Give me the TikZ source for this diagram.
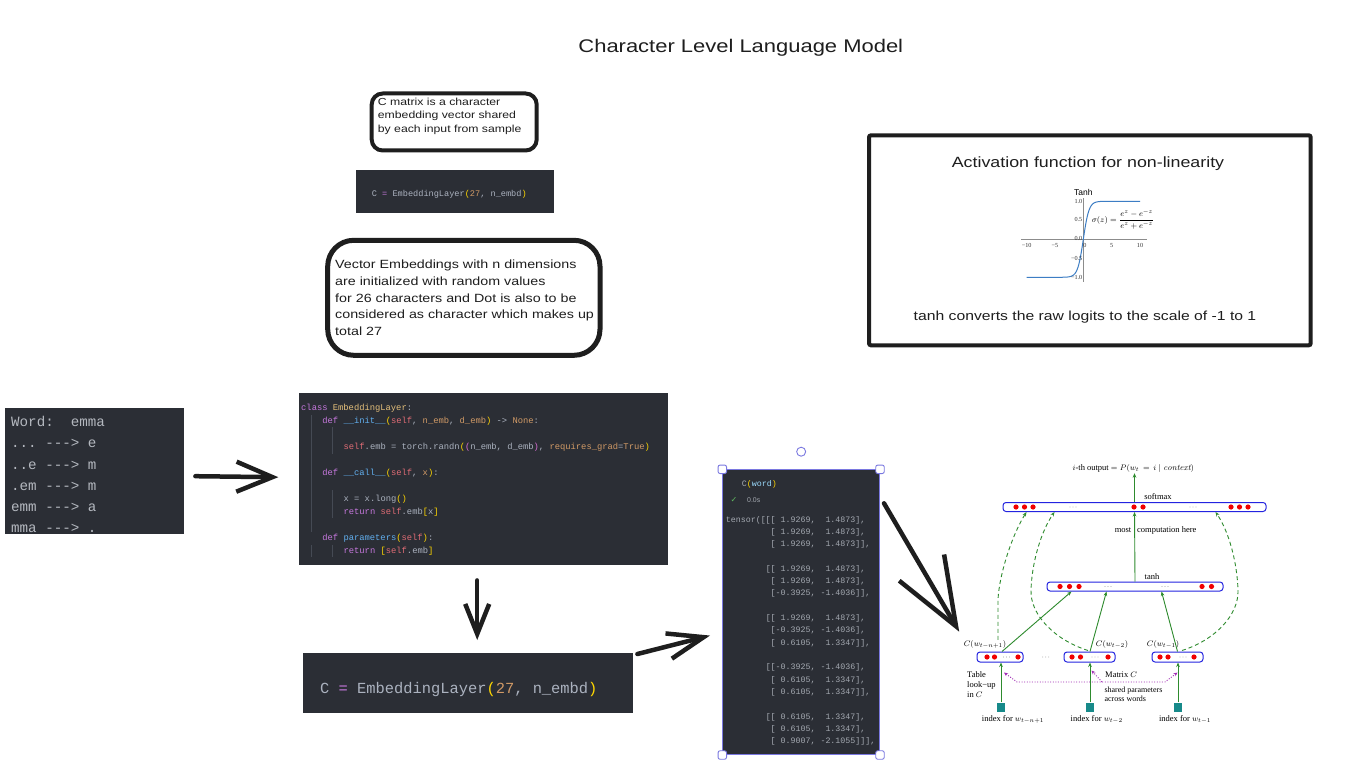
\documentclass[tikz,border=0pt]{standalone}
\usepackage{fontspec}
\usetikzlibrary{arrows.meta,calc}
\newfontfamily\hand[FakeStretch=1.2]{Liberation Sans}
\newfontfamily\sansf{Liberation Sans}
\newfontfamily\mono{Liberation Mono}
\newfontfamily\tms{Liberation Serif}
\newfontfamily\dejavu{DejaVu Sans}
\definecolor{ink}{HTML}{1E1E1E}
\definecolor{codebg}{HTML}{2B2E35}
\definecolor{ctxt}{HTML}{ABB2BF}
\definecolor{wtxt}{HTML}{B4B8BF}
\definecolor{ttxt}{HTML}{A4A9B1}
\definecolor{ckw}{HTML}{C678DD}
\definecolor{ccls}{HTML}{E5C07B}
\definecolor{cfn}{HTML}{61AFEF}
\definecolor{cslf}{HTML}{E06C75}
\definecolor{cprm}{HTML}{D19A66}
\definecolor{cbra}{HTML}{FFD700}
\definecolor{cbrb}{HTML}{DA70D6}
\definecolor{cvar}{HTML}{9CDCFE}
\definecolor{selb}{HTML}{7A78E0}
\definecolor{guide}{HTML}{454A54}
\definecolor{nnblue}{HTML}{2424E0}
\definecolor{nngreen}{HTML}{2E8B2E}
\definecolor{nnred}{HTML}{F00000}
\definecolor{nnteal}{HTML}{178A8A}
\definecolor{nnpurple}{HTML}{A02CB4}
\definecolor{tanhblue}{HTML}{3C7DC4}
\definecolor{okgreen}{HTML}{5FB65F}
\newcommand{\cKw}[1]{\textcolor{ckw}{#1}}
\newcommand{\cCl}[1]{\textcolor{ccls}{#1}}
\newcommand{\cFn}[1]{\textcolor{cfn}{#1}}
\newcommand{\cSf}[1]{\textcolor{cslf}{#1}}
\newcommand{\cPm}[1]{\textcolor{cprm}{#1}}
\newcommand{\cBa}[1]{\textcolor{cbra}{#1}}
\newcommand{\cBb}[1]{\textcolor{cbrb}{#1}}
\frenchspacing
\begin{document}
\begin{tikzpicture}[x=1pt,y=-1pt,
  darkbox/.style={fill=codebg, inner sep=0pt, anchor=north west},
  note/.style={draw=ink, line width=4pt, inner sep=0pt, anchor=north west},
  hw/.style={font=\hand\fontsize{#1}{#1}\selectfont, text=ink, inner sep=0pt},
  code/.style={font=\mono\fontsize{8.8}{10}\selectfont, text=ctxt, anchor=base west, inner sep=0pt},
  wordtxt/.style={font=\mono\fontsize{14.2}{16}\selectfont, text=wtxt, anchor=base west, inner sep=0pt},
  tens/.style={font=\mono\fontsize{8.3}{10}\selectfont, text=ttxt, anchor=base west, inner sep=0pt},
  handarrow/.style 2 args={draw=ink, line width=4.5pt, line cap=round, line join=round, -{Straight Barb[length=#1,width=#2]}},
  handle/.style={draw=selb, fill=white, line width=0.9pt, minimum size=8.5pt, inner sep=0pt, rounded corners=2pt},
  tick/.style={font=\tms\fontsize{6.2}{7}\selectfont, text=black!80, inner sep=0pt},
  layer/.style={draw=nnblue, line width=1pt, rounded corners=3pt, fill=white, inner sep=0pt, minimum height=9pt},
  sq/.style={fill=nnteal, minimum width=8pt, minimum height=9pt, inner sep=0pt},
  nn/.style={font=\tms\fontsize{8.5}{9}\selectfont, inner sep=0pt, text=black},
  garrow/.style={draw=nngreen, line width=0.9pt, -{Stealth[length=4.5pt,width=3.6pt]}},
  gdash/.style={garrow, dash pattern=on 4pt off 3pt},
  pdot/.style={draw=nnpurple, line width=0.9pt, dash pattern=on 1pt off 1.6pt}
]
\fill[white] (0,0) rectangle (1368,765);
\useasboundingbox (0,0) rectangle (1368,765);

% title
\node[hw=18.3, anchor=base] (title) at (740.8,52.7) {Character Level Language Model};

% C matrix note
\node[note, rounded corners=11pt, minimum width=165pt, minimum height=57pt] (note1) at (369.7,91.5) {};
\node[hw=10.2, anchor=base west] (n1a) at (377.7,105.5) {C matrix is a character};
\node[hw=10.2, anchor=base west] (n1b) at (377.7,119) {embedding vector shared};
\node[hw=10.2, anchor=base west] (n1c) at (377.7,132.5) {by each input from sample};

% small code box
\node[darkbox, minimum width=198pt, minimum height=43pt] (csmall) at (356,170) {};
\node[font=\mono\fontsize{8.6}{10}\selectfont, text=ctxt, anchor=base west, inner sep=0pt] (cst) at (371.7,196)
  {C \cKw{=} EmbeddingLayer\cBa{(}\cPm{27}, n\_embd\cBa{)}};

% Vector embeddings note
\node[note, line width=5pt, rounded corners=26pt, minimum width=272.3pt, minimum height=115pt] (note2) at (325.2,237.8) {};
\node[hw=11.9, anchor=base west] (n2a) at (335,268.7) {Vector Embeddings with n dimensions};
\node[hw=11.9, anchor=base west] (n2b) at (335,285.5) {are initialized with random values};
\node[hw=11.9, anchor=base west] (n2c) at (335,302.2) {for 26 characters and Dot is also to be};
\node[hw=11.9, anchor=base west] (n2d) at (335,318.9) {considered as character which makes up};
\node[hw=11.9, anchor=base west] (n2e) at (335,335.5) {total 27};

% activation box
\node[note, rounded corners=2pt, minimum width=441.7pt, minimum height=210pt] (act) at (867,133.3) {};
\node[hw=14.85, anchor=base] (acttitle) at (1088,167.3) {Activation function for non-linearity};
\node[hw=13.1, anchor=base] (actbottom) at (1085,320.7) {tanh converts the raw logits to the scale of -1 to 1};
% tanh plot
\draw[black!45, line width=0.6pt] (1021,239.3) -- (1146.7,239.3);
\draw[black!45, line width=0.6pt] (1083.3,198) -- (1083.3,282);
\draw[tanhblue, line width=1pt] plot[domain=-10:10, samples=140] ({1083.3+5.67*\x},{239.3-38*tanh(max(-4,min(4,\x)))});
\node[tick] (xm10) at (1026.7,245) {−10};
\node[tick] (xm5) at (1055,245) {−5};
\node[tick] (x0) at (1085,245) {0};
\node[tick] (x5) at (1111.7,245) {5};
\node[tick] (x10) at (1140,245) {10};
\node[tick, anchor=east] (y1) at (1082.5,201.3) {1.0};
\node[tick, anchor=east] (y05) at (1082.5,219.7) {0.5};
\node[tick, anchor=east] (y0) at (1082.5,238.5) {0.0};
\node[tick, anchor=east] (ym05) at (1082.5,258) {−0.5};
\node[tick, anchor=east] (ym1) at (1082.5,277.3) {−1.0};
\node[font=\sansf\fontsize{8.5}{9}\selectfont, inner sep=0pt] (tanhtitle) at (1083.3,192) {Tanh};
\node[font=\fontsize{8}{9}\selectfont, inner sep=0pt] (formula) at (1123,219.5)
  {$\displaystyle\sigma(z)=\frac{e^{z}-e^{-z}}{e^{z}+e^{-z}}$};

% word box
\node[darkbox, minimum width=179pt, minimum height=126pt] (word) at (5,408) {};
\begin{scope}
\clip (word.north west) rectangle (word.south east);
\node[wordtxt] (w0) at (11,426.7) {Word:\ \ emma};
\node[wordtxt] (w1) at (11,447.7) {...\ -{}-{}-> e};
\node[wordtxt] (w2) at (11,469) {..e -{}-{}-> m};
\node[wordtxt] (w3) at (11,490) {.em -{}-{}-> m};
\node[wordtxt] (w4) at (11,511.7) {emm -{}-{}-> a};
\node[wordtxt] (w5) at (11,532.7) {mma -{}-{}-> .};
\end{scope}

% code box
\node[darkbox, minimum width=369pt, minimum height=171.6pt] (code) at (298.3,392.7) {};
\draw[guide, line width=0.8pt] (311,415) -- (311,532);
\draw[guide, line width=0.8pt] (311,545) -- (311,557);
\draw[guide, line width=0.8pt] (332,427) -- (332,454);
\draw[guide, line width=0.8pt] (332,490) -- (332,518);
\draw[guide, line width=0.8pt] (332,545) -- (332,557);
\node[code] (l1) at (301,410) {\cKw{class} \cCl{EmbeddingLayer}:};
\node[code] (l2) at (322.2,423.05) {\cKw{def} \cFn{\_\_init\_\_}\cBa{(}\cSf{self}, \cPm{n\_emb}, \cPm{d\_emb}\cBa{)} -{}> \cPm{None}:};
\node[code] (l3) at (343.4,449.15) {\cSf{self}.emb = torch.randn\cBa{(}\cBb{(}n\_emb, d\_emb\cBb{)}, \cPm{requires\_grad}=\cPm{True}\cBa{)}};
\node[code] (l4) at (322.2,475.25) {\cKw{def} \cFn{\_\_call\_\_}\cBa{(}\cSf{self}, \cPm{x}\cBa{)}:};
\node[code] (l5) at (343.4,501.35) {x = x.long\cBa{()}};
\node[code] (l6) at (343.4,514.4) {\cKw{return} \cSf{self}.emb\cBa{[}x\cBa{]}};
\node[code] (l7) at (322.2,540.5) {\cKw{def} \cFn{parameters}\cBa{(}\cSf{self}\cBa{)}:};
\node[code] (l8) at (343.4,553.55) {\cKw{return} \cBa{[}\cSf{self}.emb\cBa{]}};

% bottom C box
\node[darkbox, minimum width=329.6pt, minimum height=60pt] (cbox) at (302.7,652.3) {};
\node[font=\mono\fontsize{15.4}{17}\selectfont, text=ctxt, anchor=base west, inner sep=0pt] (cbt) at (320,693.3)
  {C \cKw{=} EmbeddingLayer\cBa{(}\cPm{27}, n\_embd\cBa{)}};

% tensor output box
\node[darkbox, draw=selb, line width=1pt, minimum width=156.7pt, minimum height=284.7pt] (tensor) at (722.3,469.3) {};
\node[font=\mono\fontsize{8.3}{10}\selectfont, text=ttxt, anchor=base west, inner sep=0pt] (cw) at (741.7,486)
  {C\cBa{(}\textcolor{cvar}{word}\cBa{)}};
\node[font=\dejavu\fontsize{8}{9}\selectfont, text=okgreen, anchor=base west, inner sep=0pt] (ok) at (730.5,502) {✓};
\node[font=\sansf\fontsize{6.9}{8}\selectfont, text=ttxt, anchor=base west, inner sep=0pt] (time) at (747,502) {0.0s};
\foreach \k/\s in {
  0/{tensor([[[ 1.9269,\ \ 1.4873],},
  1/{\phantom{tensor([[}[ 1.9269,\ \ 1.4873],},
  2/{\phantom{tensor([[}[ 1.9269,\ \ 1.4873]],},
  4/{\phantom{tensor([}[[ 1.9269,\ \ 1.4873],},
  5/{\phantom{tensor([[}[ 1.9269,\ \ 1.4873],},
  6/{\phantom{tensor([[}[-0.3925, -1.4036]],},
  8/{\phantom{tensor([}[[ 1.9269,\ \ 1.4873],},
  9/{\phantom{tensor([[}[-0.3925, -1.4036],},
  10/{\phantom{tensor([[}[ 0.6105,\ \ 1.3347]],},
  12/{\phantom{tensor([}[[-0.3925, -1.4036],},
  13/{\phantom{tensor([[}[ 0.6105,\ \ 1.3347],},
  14/{\phantom{tensor([[}[ 0.6105,\ \ 1.3347]],},
  16/{\phantom{tensor([}[[ 0.6105,\ \ 1.3347],},
  17/{\phantom{tensor([[}[ 0.6105,\ \ 1.3347],},
  18/{\phantom{tensor([[}[ 0.9007, -2.1055]]],}}
  \node[tens] (t\k) at (725.7,{522+12.33*\k}) {\s};
\node[handle] (hnw) at (tensor.north west) {};
\node[handle] (hne) at (tensor.north east) {};
\node[handle] (hsw) at (tensor.south west) {};
\node[handle] (hse) at (tensor.south east) {};
\node[draw=selb, fill=white, circle, minimum size=9pt, inner sep=0pt, line width=0.9pt] (rot) at ($(tensor.north)+(0,-17.6)$) {};

% ---- neural network figure ----
\node[layer, minimum width=263pt] (top) at (1134.5,507) {};
\node[layer, minimum width=176pt] (tanhL) at (1135,586.5) {};
\node[layer, minimum width=46pt, minimum height=10pt] (box1) at (1000,657) {};
\node[layer, minimum width=51pt, minimum height=10pt] (box2) at (1089.5,657) {};
\node[layer, minimum width=51pt, minimum height=10pt] (box3) at (1177.5,657) {};
\foreach \x in {1016,1024.5,1033,1134,1143,1231,1239.5,1248} \fill[nnred] (\x,507) circle (2.6);
\foreach \x in {1060,1069.5,1079,1202,1211.5} \fill[nnred] (\x,586.5) circle (2.6);
\foreach \x in {987,994.5,1018,1072,1080.5,1108,1160,1168,1194} \fill[nnred] (\x,657) circle (2.6);
\foreach \x/\y in {1073/507,1193/507,1108/586.5,1165/586.5,1006.5/657,1095/657,1183/657,1045.7/657}
  \fill[black!60] ({\x-3},\y) circle (0.45) (\x,\y) circle (0.45) ({\x+3},\y) circle (0.45);
\node[sq] (s1) at (1001,707) {};
\node[sq] (s2) at (1090,707) {};
\node[sq] (s3) at (1178,707) {};

\node[nn, anchor=base] (outl) at (1133.3,470) {$i$-th output $= P(w_t\,=\,i\mid \mathit{context})$};
\node[nn, anchor=base] (smx) at (1158,499) {softmax};
\node[nn, anchor=base east] (most) at (1131.5,532.3) {most};
\node[nn, anchor=base west] (comp) at (1137,532.3) {computation here};
\node[nn, anchor=base] (tanhlab) at (1152,579) {tanh};
\node[nn, anchor=base] (lab1) at (985,646) {$C(w_{t-n+1})$};
\node[nn, anchor=base] (lab2) at (1112,646) {$C(w_{t-2})$};
\node[nn, anchor=base] (lab3) at (1163,646) {$C(w_{t-1})$};
\node[nn, anchor=base west] (tl1) at (967,677) {Table};
\node[nn, anchor=base west] (tl2) at (967,687) {look−up};
\node[nn, anchor=base west] (tl3) at (967,697) {in $C$};
\node[nn, anchor=base west] (mc) at (1105,677) {Matrix $C$};
\node[nn, anchor=base west, font=\tms\fontsize{8}{9}\selectfont] (sp1) at (1104.3,692.7) {shared parameters};
\node[nn, anchor=base west, font=\tms\fontsize{8}{9}\selectfont] (sp2) at (1104.3,701) {across words};
\node[nn, anchor=base] (ix1) at (1013,721.7) {index for $w_{t-n+1}$};
\node[nn, anchor=base] (ix2) at (1096.7,721.7) {index for $w_{t-2}$};
\node[nn, anchor=base] (ix3) at (1185,721.7) {index for $w_{t-1}$};

\draw[garrow, shorten >=1pt] (top.north) -- (top.north |- outl.south);
\draw[garrow] (tanhL.north) -- (top.south);
\draw[garrow] ($(box1.north)+(2,0)$) -- ($(tanhL.south west)+(25,0)$);
\draw[garrow] ($(box2.north)+(0.5,0)$) -- ($(tanhL.south west)+(60,0)$);
\draw[garrow] (box3.north) -- ($(tanhL.south west)+(115,0)$);
\draw[garrow] (s1.north) -- (s1.north |- box1.south);
\draw[garrow] (s2.north) -- (s2.north |- box2.south);
\draw[garrow] (s3.north) -- (s3.north |- box3.south);

\draw[gdash] ($(lab1.north)+(13,0)$) -- (998,600) .. controls (999,575) and (1012,535) .. ($(top.south west)+(24,0)$);
\draw[gdash] ($(box2.north)+(-1.5,-1)$) .. controls (1055,640) and (1030,615) .. (1031,590) .. controls (1032,560) and (1042,530) .. ($(top.south west)+(52,0)$);
\draw[gdash] ($(box3.north)+(4.5,-1)$) .. controls (1215,640) and (1239,615) .. (1238,590) .. controls (1237,560) and (1228,530) .. ($(top.south east)+(-51,0)$);

\draw[pdot, {Stealth[length=4pt,width=3.5pt]}-{Stealth[length=4pt,width=3.5pt]}]
  ($(box1.south)+(4,10)$) -- (1017,682) -- (1165,682) -- ($(box3.south)+(0,10)$);
\draw[pdot, -{Stealth[length=4pt,width=3.5pt]}] (1102,682) -- ($(box2.south)+(2,8)$);

% hand-drawn arrows
\draw[handarrow={36pt}{30pt}] ($(word.east)+(11,5)$) -- ($(code.west)+(-20,-1.5)$);
\draw[handarrow={30pt}{24pt}] ($(code.south)+(-5.8,15.7)$) -- ($(cbox.north)+(9.5,-12.3)$);
\draw[handarrow={36pt}{26pt}] ($(cbox.north east)+(4.7,1.7)$) -- ($(tensor.west)+(-12.3,23.4)$);
\draw[handarrow={68pt}{52pt}] ($(tensor.north east)+(4,34)$) -- ($(box1.west)+(-17.3,-25.3)$);
\end{tikzpicture}
\end{document}
